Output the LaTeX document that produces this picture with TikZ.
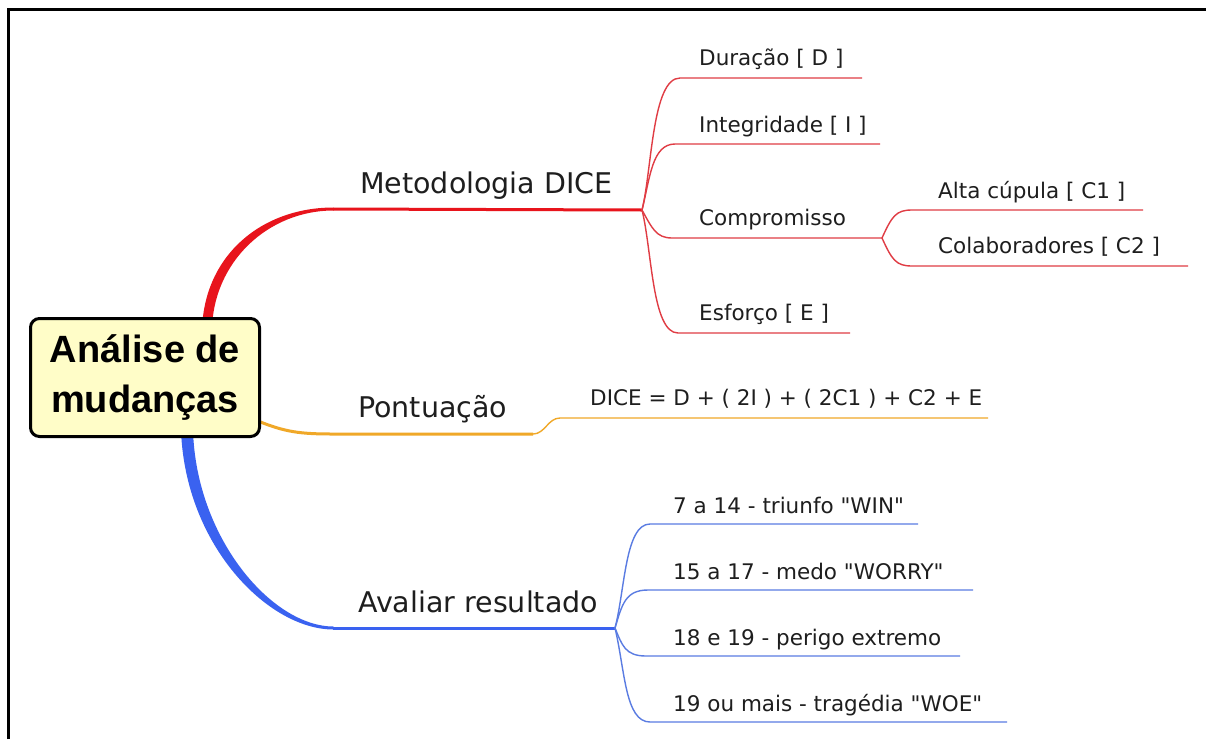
\documentclass[tikz,border=0pt]{standalone}
\usepackage{fontspec}
\setmainfont{DejaVu Sans}[Ligatures=TeXOff]
\newfontfamily\hubfont{Liberation Sans}
\definecolor{redmain}{HTML}{E8141C}
\definecolor{redsub}{HTML}{E03C44}
\definecolor{orangemain}{HTML}{F0A828}
\definecolor{bluemain}{HTML}{3A62F0}
\definecolor{bluesub}{HTML}{5A7CE2}
\definecolor{hubfill}{HTML}{FFFDC8}
\definecolor{labeltext}{HTML}{1E1E1E}
\begin{document}
\begin{tikzpicture}[x=1pt,y=-1pt,
  toplbl/.style={anchor=base west, inner sep=0pt, text=labeltext, font=\fontsize{28.5}{34}\selectfont},
  sublbl/.style={anchor=base west, inner sep=0pt, text=labeltext, font=\fontsize{21.5}{26}\selectfont},
  redline/.style={draw=redsub, line width=1.4pt},
  blueline/.style={draw=bluesub, line width=1.4pt},
  orangeline/.style={draw=orangemain, line width=1.4pt},
  hubbox/.style={draw=black, line width=3pt, fill=hubfill, rounded corners=9pt,
    minimum width=229pt, minimum height=118pt, inner sep=0pt, align=center,
    font=\hubfont\bfseries\fontsize{38}{50}\selectfont}]

\useasboundingbox (0,0) rectangle (1206,739);
\fill[white] (0,0) rectangle (1206,739);
% frame along the top and left edges
\draw[line width=3pt] (8.5,739) -- (8.5,9.5) -- (1206,9.5);

% ---------- key points ----------
\coordinate (redBend) at (333,209);
\coordinate (redHub) at (642,210);
\coordinate (cHub) at (882,238);
\coordinate (orBend) at (333,434);
\coordinate (orStep) at (533,434);
\coordinate (orTop) at (560,418);
\coordinate (orEnd) at (988,418);
\coordinate (blBend) at (333,628);
\coordinate (blHub) at (615,628);

% ---------- red branch: Metodologia DICE ----------
\fill[redmain] (202,330) .. controls (204,255) and (262,207.5) .. (333.5,207.5)
  -- (333.5,210.5) .. controls (268,210.5) and (213,262) .. (212,330) -- cycle;
\draw[redmain, line width=3pt] (redBend) -- (redHub);

\coordinate (dS) at (680,78);   \coordinate (dE) at (862,78);
\coordinate (iS) at (675,144);  \coordinate (iE) at (880,144);
\coordinate (cS) at (672,238);
\coordinate (eS) at (678,333);  \coordinate (eE) at (850,333);
\coordinate (c1S) at (912,210); \coordinate (c1E) at (1143,210);
\coordinate (c2S) at (912,266); \coordinate (c2E) at (1188,266);

\draw[redline] (redHub) .. controls (652,170) and (652,78) .. (dS) -- (dE);
\draw[redline] (redHub) .. controls (650,178) and (652,144) .. (iS) -- (iE);
\draw[redline] (redHub) .. controls (652,228) and (656,238) .. (cS) -- (cHub);
\draw[redline] (redHub) .. controls (652,250) and (652,333) .. (eS) -- (eE);
\draw[redline] (cHub) .. controls (892,216) and (896,210) .. (c1S) -- (c1E);
\draw[redline] (cHub) .. controls (892,260) and (896,266) .. (c2S) -- (c2E);

% ---------- orange branch: Pontuacao ----------
\draw[orangemain, line width=3pt] (258,421) .. controls (285,432) and (300,434) .. (orBend) -- (orStep);
\draw[orangeline] (orStep) .. controls (545,434) and (548,418) .. (orTop) -- (orEnd);

% ---------- blue branch: Avaliar resultado ----------
\fill[bluemain] (181,430) .. controls (185,545) and (268,629.5) .. (333.5,629.5)
  -- (333.5,626.5) .. controls (272,626.5) and (196,538) .. (193,430) -- cycle;
\draw[bluemain, line width=3pt] (blBend) -- (blHub);

\coordinate (w1S) at (650,524); \coordinate (w1E) at (918,524);
\coordinate (w2S) at (648,590); \coordinate (w2E) at (973,590);
\coordinate (w3S) at (646,656); \coordinate (w3E) at (960,656);
\coordinate (w4S) at (650,722); \coordinate (w4E) at (1007,722);

\draw[blueline] (blHub) .. controls (625,590) and (625,524) .. (w1S) -- (w1E);
\draw[blueline] (blHub) .. controls (622,605) and (625,590) .. (w2S) -- (w2E);
\draw[blueline] (blHub) .. controls (622,645) and (625,656) .. (w3S) -- (w3E);
\draw[blueline] (blHub) .. controls (625,670) and (625,722) .. (w4S) -- (w4E);

% ---------- central topic ----------
\node[hubbox] (hub) at (145,377.5) {Análise de\\mudanças};

% ---------- labels ----------
\node[toplbl] (metod) at (360,193) {Metodologia DICE};
\node[toplbl] (pont) at (358,417) {Pontuação};
\node[toplbl] (aval) at (358,612) {Avaliar resultado};

\node[sublbl] (dur) at (699,65) {Duração [ D ]};
\node[sublbl] (integ) at (699,132) {Integridade [ I ]};
\node[sublbl] (comp) at (699,225) {Compromisso};
\node[sublbl] (esf) at (699,320) {Esforço [ E ]};
\node[sublbl] (alta) at (938,198) {Alta cúpula [ C1 ]};
\node[sublbl] (colab) at (938,253) {Colaboradores [ C2 ]};

\node[sublbl] (formula) at (590,405) {DICE = D + ( 2I ) + ( 2C1 ) + C2 + E};

\node[sublbl] (win) at (673,513) {7 a 14 - triunfo "WIN"};
\node[sublbl] (worry) at (673,579) {15 a 17 - medo "WORRY"};
\node[sublbl] (perigo) at (673,645) {18 e 19 - perigo extremo};
\node[sublbl] (woe) at (673,711) {19 ou mais - tragédia "WOE"};
\end{tikzpicture}
\end{document}
